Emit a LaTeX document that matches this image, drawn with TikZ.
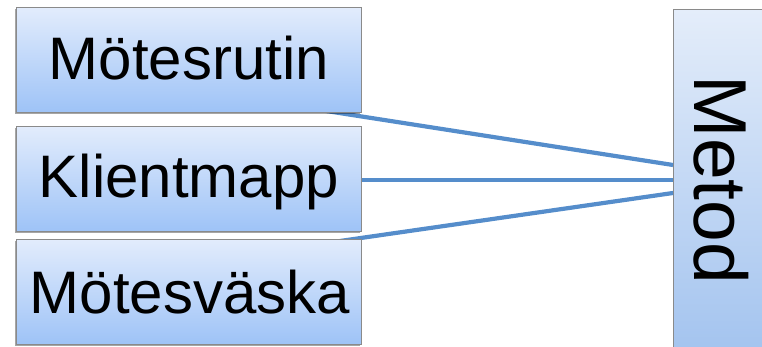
\documentclass[tikz,border=0pt]{standalone}
\usepackage{fontspec}
\setmainfont{Liberation Sans}
\usetikzlibrary{shadows}
\definecolor{boxtop}{HTML}{E2ECFC}
\definecolor{boxbot}{HTML}{9EC3F7}
\definecolor{mtop}{HTML}{E4EDFA}
\definecolor{mbot}{HTML}{A4C4EF}
\definecolor{boxline}{HTML}{8A8A8A}
\definecolor{conn}{HTML}{558DCB}
\tikzset{
  itembox/.style={draw=boxline, line width=0.8pt, top color=boxtop, bottom color=boxbot,
    drop shadow={shadow xshift=-1.5pt, shadow yshift=-1.5pt, fill=black, opacity=0.35},
    minimum width=345pt, minimum height=105pt, inner sep=0pt, anchor=north west},
  itemtext/.style={font=\fontsize{60}{60}\selectfont, anchor=base, inner sep=0pt},
  connector/.style={draw=conn, line width=4.2pt}
}
\begin{document}
\begin{tikzpicture}[x=1pt,y=-1pt]
\useasboundingbox (0,0) rectangle (762,347);
\clip (0,0) rectangle (762,347);
% Metod box
\node[draw=boxline, line width=0.8pt, top color=mtop, bottom color=mbot,
  minimum width=110pt, minimum height=340pt, inner sep=0pt, anchor=north west] (metod) at (673,9) {};
\node[font=\fontsize{75}{75}\selectfont, rotate=-90, inner sep=0pt] (metodtext) at (721,180) {Metod};
% connector end points
\coordinate (e1) at (673,165);
\coordinate (e2) at (673,180);
\coordinate (e3) at (673,193);
\coordinate (s1) at (320,110);
\coordinate (s2) at (340,180);
\coordinate (s3) at (340,241);
\draw[connector] (s1) -- (e1);
\draw[connector] (s2) -- (e2);
\draw[connector] (s3) -- (e3);
% boxes
\node[itembox] (b1) at (16,7) {};
\node[itembox] (b2) at (16,126) {};
\node[itembox] (b3) at (16,239) {};
\node[itemtext] (t1) at (189,80) {Mötesrutin};
\node[itemtext] (t2) at (189,198) {Klientmapp};
\node[itemtext] (t3) at (190,313) {Mötesväska};
\end{tikzpicture}
\end{document}
